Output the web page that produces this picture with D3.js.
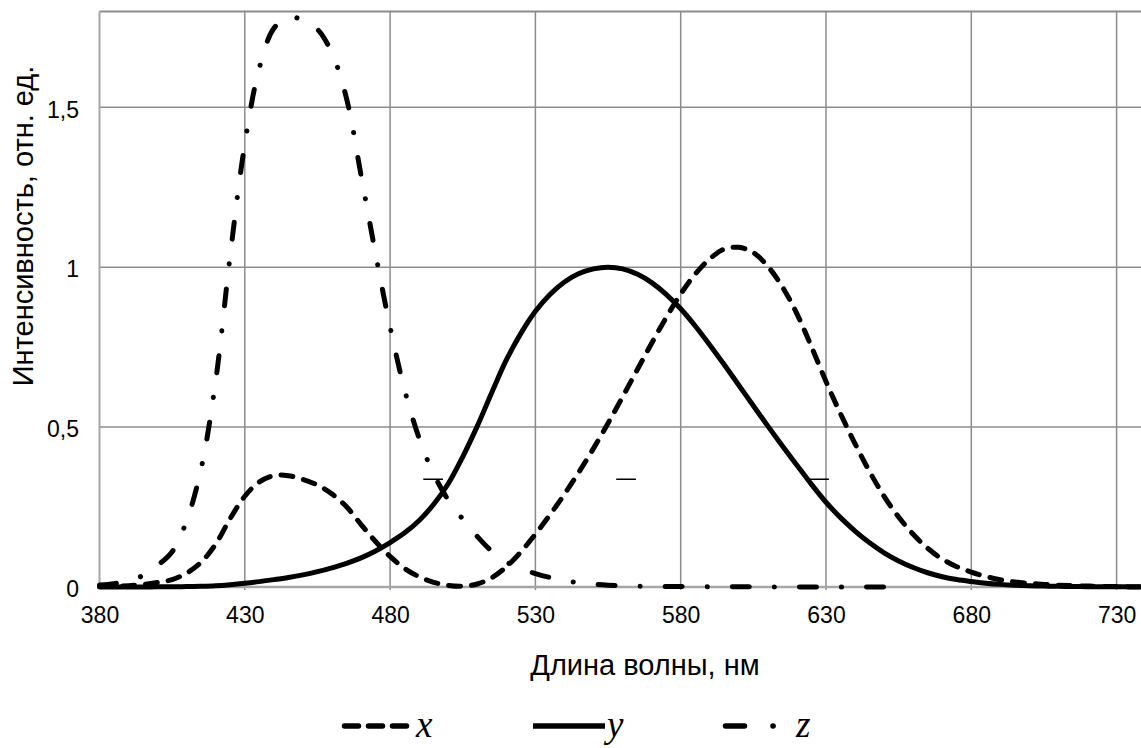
<!DOCTYPE html>
<html>
<head>
<meta charset="utf-8">
<script src="https://cdn.jsdelivr.net/npm/d3@7"></script>
<style>
  html, body { margin: 0; padding: 0; background: #fff; }
  svg { display: block; }
</style>
</head>
<body>
<svg id="chart" width="1141" height="748"></svg>
<script>
// ---- data (CIE 1931 colour-matching curves) ----
const wavelengths = [380,385,390,395,400,405,410,415,420,425,430,435,440,445,450,455,460,465,470,475,
  480,485,490,495,500,505,510,515,520,525,530,535,540,545,550,555,560,565,570,575,
  580,585,590,595,600,605,610,615,620,625,630,635,640,645,650,655,660,665,670,675,
  680,685,690,695,700,705,710,715,720,725,730,735,740];
const xValues = [0.001368,0.002236,0.004243,0.00765,0.01431,0.02319,0.04351,0.07763,0.13438,0.21477,
  0.2839,0.3285,0.34828,0.34806,0.3362,0.3187,0.2908,0.2511,0.19536,0.1421,
  0.09564,0.05795,0.03201,0.0147,0.0049,0.0024,0.0093,0.0291,0.06327,0.1096,
  0.1655,0.22575,0.2904,0.3597,0.43345,0.51205,0.5945,0.6784,0.7621,0.8425,
  0.9163,0.9786,1.0263,1.0567,1.0622,1.0456,1.0026,0.9384,0.85445,0.7514,
  0.6424,0.5419,0.4479,0.3608,0.2835,0.2187,0.1649,0.1212,0.0874,0.0636,
  0.04677,0.0329,0.0227,0.01584,0.011359,0.008111,0.00579,0.004109,0.002899,0.002049,
  0.00144,0.001,0.00069];
const yValues = [0.000039,0.000064,0.00012,0.000217,0.000396,0.00064,0.00121,0.00218,0.004,0.0073,
  0.0116,0.01684,0.023,0.0298,0.038,0.048,0.06,0.0739,0.09098,0.1126,
  0.13902,0.1693,0.20802,0.2586,0.323,0.4073,0.503,0.6082,0.71,0.7932,
  0.862,0.91485,0.954,0.9803,0.99495,1.0,0.995,0.9786,0.952,0.9154,
  0.87,0.8163,0.757,0.6949,0.631,0.5668,0.503,0.4412,0.381,0.321,
  0.265,0.217,0.175,0.1382,0.107,0.0816,0.061,0.04458,0.032,0.0232,
  0.017,0.01192,0.00821,0.005723,0.004102,0.002929,0.002091,0.001484,0.001047,0.00074,
  0.00052,0.000361,0.000249];
const zValues = [0.00645,0.01055,0.02005,0.03621,0.06785,0.1102,0.2074,0.3713,0.6456,1.03905,
  1.3856,1.62296,1.74706,1.7826,1.77211,1.7441,1.6692,1.5281,1.28764,1.0419,
  0.81295,0.6162,0.46518,0.3533,0.272,0.2123,0.1582,0.1117,0.07825,0.05725,
  0.04216,0.02984,0.0203,0.0134,0.00875,0.00575,0.0039,0.00275,0.0021,0.0018,
  0.00165,0.0014,0.0011,0.001,0.0008,0.0006,0.00034,0.00024,0.00019,0.0001,
  0.00005,0.00003,0.00002,0.00001,0];
const xTicks = [380,430,480,530,580,630,680,730];
const yTicks = [0,0.5,1,1.5];
const yTickLabels = ["0","0,5","1","1,5"];
const yMax = 1.8;
const seriesNames = ["x","y","z"];
const stubCenters = [494.8, 561.2, 627.6];   // short horizontal marks seen in the picture
const stubValue = 0.337;
const xTitle = "Длина волны, нм";
const yTitle = "Интенсивность, отн. ед.";

// ---- layout ----
const W = 1141, H = 748;
const x = d3.scaleLinear().domain([380, 730]).range([99.5, 1116.6]);
const y = d3.scaleLinear().domain([0, yMax]).range([587, 11.4]);
const plotLeft = x(380), plotRight = W, plotBottom = y(0), plotTop = y(yMax);

const svg = d3.select("#chart");
const font = "'Liberation Sans', Arial, sans-serif";

// grid
const grid = svg.append("g");
grid.selectAll("line.v").data(xTicks.slice(1)).join("line")
  .attr("x1", d => x(d)).attr("x2", d => x(d))
  .attr("y1", plotTop).attr("y2", plotBottom + 3)
  .attr("stroke", "#8c8c8c").attr("stroke-width", 1.5);
grid.selectAll("line.h").data(yTicks.slice(1).concat([yMax])).join("line")
  .attr("x1", plotLeft).attr("x2", plotRight)
  .attr("y1", d => y(d)).attr("y2", d => y(d))
  .attr("stroke", "#8c8c8c").attr("stroke-width", d => d === yMax ? 2 : 1.5);

// axis lines
svg.append("line").attr("x1", plotLeft).attr("x2", plotLeft)
  .attr("y1", plotTop).attr("y2", plotBottom)
  .attr("stroke", "#a6a6a6").attr("stroke-width", 2);
svg.append("line").attr("x1", plotLeft).attr("x2", plotRight)
  .attr("y1", plotBottom).attr("y2", plotBottom)
  .attr("stroke", "#a6a6a6").attr("stroke-width", 2.5);

// tick labels via d3 axes
const gx = svg.append("g").attr("transform", `translate(0,${plotBottom})`)
  .call(d3.axisBottom(x).tickValues(xTicks).tickSize(0).tickPadding(20).tickFormat(d => String(d)));
gx.select(".domain").remove();
gx.selectAll("text").attr("font-family", font).attr("font-size", 23).attr("fill", "#000");

const gy = svg.append("g").attr("transform", `translate(${plotLeft},0)`)
  .call(d3.axisLeft(y).tickValues(yTicks).tickSize(0).tickPadding(20.5)
    .tickFormat((d, i) => yTickLabels[i]));
gy.select(".domain").remove();
gy.selectAll("text").attr("font-family", font).attr("font-size", 23).attr("fill", "#000")
  .attr("dy", "0.42em");

// axis titles
svg.append("text").attr("x", 645).attr("y", 675).attr("text-anchor", "middle")
  .attr("font-family", font).attr("font-size", 29).attr("fill", "#000").text(xTitle);
svg.append("text").attr("transform", "translate(33,226) rotate(-90)").attr("text-anchor", "middle")
  .attr("font-family", font).attr("font-size", 29).attr("fill", "#000").text(yTitle);

// stub marks
svg.append("g").selectAll("line").data(stubCenters).join("line")
  .attr("x1", d => x(d - 3.4)).attr("x2", d => x(d + 3.4))
  .attr("y1", y(stubValue)).attr("y2", y(stubValue))
  .attr("stroke", "#000").attr("stroke-width", 1.5);

// curves
const styles = {
  x: { dash: "12,11" },
  y: { dash: null },
  z: { dash: "17,25,0.1,25" }
};
const series = [
  { name: "x", values: xValues },
  { name: "y", values: yValues },
  { name: "z", values: zValues }
];
const line = d3.line()
  .x(d => x(d[0])).y(d => y(d[1]))
  .curve(d3.curveCatmullRom.alpha(0.5));
svg.append("g").selectAll("path").data(series).join("path")
  .attr("d", s => line(s.values.map((v, i) => [wavelengths[i], v])))
  .attr("fill", "none").attr("stroke", "#000").attr("stroke-width", 5)
  .attr("stroke-linecap", "round").attr("stroke-linejoin", "round")
  .attr("stroke-dasharray", s => styles[s.name].dash);

// legend
const legendY = 726;
const legendItems = [
  { name: "x", x1: 344.5, x2: 408, dash: "14,10", tx: 416 },
  { name: "y", x1: 533, x2: 605, dash: null, tx: 607 },
  { name: "z", x1: 725.5, x2: 790, dash: "19,28.5,0.1,21,0.1,1000", tx: 796 }
];
const lg = svg.append("g");
lg.selectAll("line").data(legendItems).join("line")
  .attr("x1", d => d.x1).attr("x2", d => d.x2)
  .attr("y1", legendY).attr("y2", legendY)
  .attr("stroke", "#000").attr("stroke-width", 5.5).attr("stroke-linecap", d => d.dash ? "round" : "butt")
  .attr("stroke-dasharray", d => d.dash);
lg.selectAll("text").data(legendItems).join("text")
  .attr("x", d => d.tx).attr("y", 737)
  .attr("font-family", "'Liberation Serif', 'Times New Roman', serif")
  .attr("font-style", "italic").attr("font-size", 37).attr("fill", "#000")
  .text((d, i) => seriesNames[i]);
</script>
</body>
</html>
